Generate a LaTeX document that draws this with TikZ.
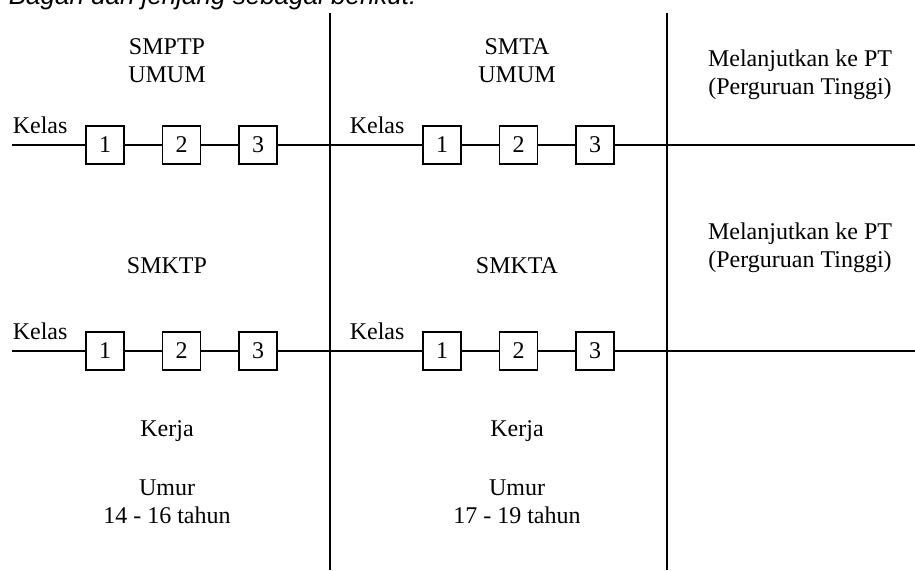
\documentclass[tikz,border=0pt]{standalone}
\usepackage{fontspec}
\setmainfont{Liberation Serif}
\newfontfamily\introfont{Liberation Sans}
\usetikzlibrary{positioning}

\begin{document}
\begin{tikzpicture}[x=0.5pt, y=-0.5pt, line width=0.8pt, node distance=18.5pt,
  every node/.style={font=\fontsize{12}{14}\selectfont},
  kelasbox/.style={draw, minimum size=19pt, inner sep=0pt},
  caption/.style={align=center, inner sep=0pt},
  kelastext/.style={anchor=base west, inner sep=0pt}]
\useasboundingbox (0,0) rectangle (915,570);
% kalimat pengantar, terpotong di tepi atas
\begin{scope}
\clip (0,0) rectangle (915,570);
\node (intro) [kelastext, font=\introfont\itshape\fontsize{13}{15}\selectfont] at (8,4) {Bagan dan jenjang sebagai berikut:};
\end{scope}

% garis pemisah kolom
\coordinate (v1t) at (330,13);
\coordinate (v1b) at (330,570);
\coordinate (v2t) at (667,13);
\coordinate (v2b) at (667,570);
\draw[line width=1pt] (v1t) -- (v1b);
\draw[line width=1pt] (v2t) -- (v2b);

% judul kolom
\node (smptp) [caption] at (167,61) {SMPTP\\UMUM};
\node (smta) [caption] at (517,61) {SMTA\\UMUM};
\node (pt1) [caption] at (800,75) {Melanjutkan ke PT\\(Perguruan Tinggi)};
\node (smktp) [caption] at (167,266) {SMKTP};
\node (smkta) [caption] at (517,266) {SMKTA};
\node (pt2) [caption] at (800,248) {Melanjutkan ke PT\\(Perguruan Tinggi)};

% baris kelas atas
\coordinate (r1s) at (12,145);
\coordinate (r1e) at (915,145);
\node (k1) [kelastext] at (12,133) {Kelas};
\node (k2) [kelastext] at (349,133) {Kelas};
\node (a1) [kelasbox] at (105,145) {1};
\node (a2) [kelasbox, right=of a1] {2};
\node (a3) [kelasbox, right=of a2] {3};
\node (b1) [kelasbox] at (442,145) {1};
\node (b2) [kelasbox, right=of b1] {2};
\node (b3) [kelasbox, right=of b2] {3};
\draw (r1s) -- (a1) -- (a2) -- (a3) -- (b1) -- (b2) -- (b3) -- (r1e);

% baris kelas bawah
\coordinate (r2s) at (12,351);
\coordinate (r2e) at (915,351);
\node (k3) [kelastext] at (12,339) {Kelas};
\node (k4) [kelastext] at (349,339) {Kelas};
\node (c1) [kelasbox] at (105,351) {1};
\node (c2) [kelasbox, right=of c1] {2};
\node (c3) [kelasbox, right=of c2] {3};
\node (d1) [kelasbox] at (442,351) {1};
\node (d2) [kelasbox, right=of d1] {2};
\node (d3) [kelasbox, right=of d2] {3};
\draw (r2s) -- (c1) -- (c2) -- (c3) -- (d1) -- (d2) -- (d3) -- (r2e);

% keterangan bawah
\node (kerja1) [caption] at (167,431) {Kerja};
\node (kerja2) [caption] at (517,431) {Kerja};
\node (umur1) [caption] at (167,502) {Umur\\14 - 16 tahun};
\node (umur2) [caption] at (517,502) {Umur\\17 - 19 tahun};
\end{tikzpicture}
\end{document}
